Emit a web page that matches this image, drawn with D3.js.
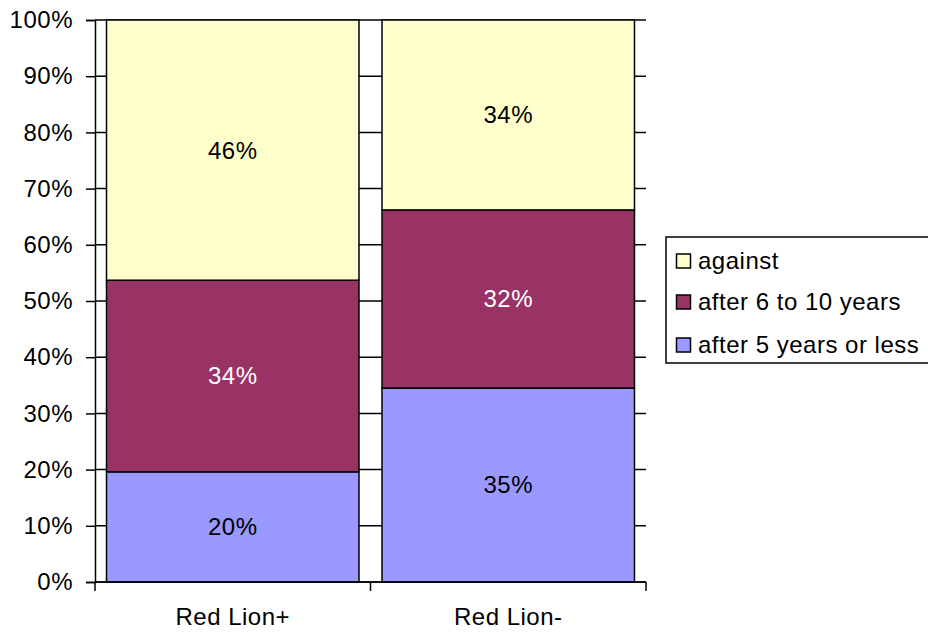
<!DOCTYPE html>
<html><head><meta charset="utf-8">
<script src="https://cdn.jsdelivr.net/npm/d3@7"></script>
<style>body{margin:0;background:#fff;overflow:hidden}svg{display:block;font-family:"Liberation Sans",Arial,sans-serif}text{letter-spacing:0.5px}</style>
</head><body><svg id="c" width="928" height="632"></svg>
<script>
const categories = ["Red Lion+", "Red Lion-"];
const seriesNames = ["after 5 years or less", "after 6 to 10 years", "against"];
const after5 = [19.6, 34.5];
const after6to10 = [34.1, 31.7];
const against = [46.3, 33.8];
const pointLabels = [["20%", "34%", "46%"], ["35%", "32%", "34%"]];
const yTicks = [0, 10, 20, 30, 40, 50, 60, 70, 80, 90, 100];
const colors = ["#9999FF", "#993366", "#FFFFCC"];
const labelColors = ["#000", "#fff", "#000"];

(function () {
const svg = d3.select("#c");
const fs = 24;
const pL = 95, pR = 646, pT = 20, pB = 582;
const y = d3.scaleLinear().domain([0, 100]).range([pB, pT]);
const p = 0.0836;
const x = d3.scaleBand().domain(categories).range([pL, pR]).paddingInner(p).paddingOuter(p / 2);

const values = [after5, after6to10, against];
const rows = categories.map((c, i) => {
  const r = { cat: c };
  seriesNames.forEach((s, k) => r[s] = values[k][i]);
  return r;
});
const stacked = d3.stack().keys(seriesNames)(rows);

// gridlines
svg.append("g").selectAll("line").data(yTicks).join("line")
  .attr("x1", pL).attr("x2", pR)
  .attr("y1", d => y(d)).attr("y2", d => y(d))
  .attr("stroke", "#000").attr("stroke-width", 1.5);

// bars
stacked.forEach((layer, k) => {
  svg.append("g").selectAll("rect").data(layer).join("rect")
    .attr("x", d => x(d.data.cat))
    .attr("width", x.bandwidth())
    .attr("y", d => y(d[1]))
    .attr("height", d => y(d[0]) - y(d[1]))
    .attr("fill", colors[k])
    .attr("stroke", "#000").attr("stroke-width", 1.5);
});
stacked.forEach((layer, k) => {
  svg.append("g").selectAll("text").data(layer).join("text")
    .attr("x", d => x(d.data.cat) + x.bandwidth() / 2)
    .attr("y", d => (y(d[0]) + y(d[1])) / 2)
    .attr("dy", "0.35em")
    .attr("text-anchor", "middle")
    .attr("font-size", fs)
    .attr("fill", labelColors[k])
    .text((d, i) => pointLabels[i][k]);
});

// y axis
const ya = svg.append("g").attr("transform", `translate(${pL},0)`)
  .call(d3.axisLeft(y).tickValues(yTicks).tickFormat(d => d + "%").tickSize(9).tickPadding(13));
ya.select(".domain").attr("stroke-width", 1.5);
ya.selectAll(".tick line").attr("stroke-width", 1.5);
ya.selectAll("text").attr("font-size", fs).attr("fill", "#000").attr("font-family", "Liberation Sans, Arial, sans-serif");

// x axis
const xEdges = d3.scaleLinear().domain([0, categories.length]).range([pL, pR]);
const xa = svg.append("g").attr("transform", `translate(0,${pB})`);
xa.append("line").attr("x1", pL).attr("x2", pR).attr("stroke", "#000").attr("stroke-width", 1.5);
xa.selectAll(".t").data(d3.range(categories.length + 1)).join("line").attr("class", "t")
  .attr("x1", d => xEdges(d)).attr("x2", d => xEdges(d)).attr("y1", 0).attr("y2", 9)
  .attr("stroke", "#000").attr("stroke-width", 1.5);
xa.selectAll("text.c").data(categories).join("text").attr("class", "c")
  .attr("x", d => x(d) + x.bandwidth() / 2).attr("y", 43)
  .attr("text-anchor", "middle").attr("font-size", fs).text(d => d);

// legend
const lg = svg.append("g").attr("transform", "translate(666,237)");
lg.append("rect").attr("width", 280).attr("height", 126).attr("fill", "#fff").attr("stroke", "#000").attr("stroke-width", 1.5);
const legendOrder = [2, 1, 0];
const lrows = [24, 65, 108];
legendOrder.forEach((k, i) => {
  lg.append("rect").attr("x", 10.5).attr("y", lrows[i] - 7).attr("width", 14).attr("height", 14)
    .attr("fill", colors[k]).attr("stroke", "#000").attr("stroke-width", 1.5);
  lg.append("text").attr("x", 32).attr("y", lrows[i]).attr("dy", "0.35em")
    .attr("font-size", fs).text(seriesNames[k]);
});
})();
</script></body></html>
